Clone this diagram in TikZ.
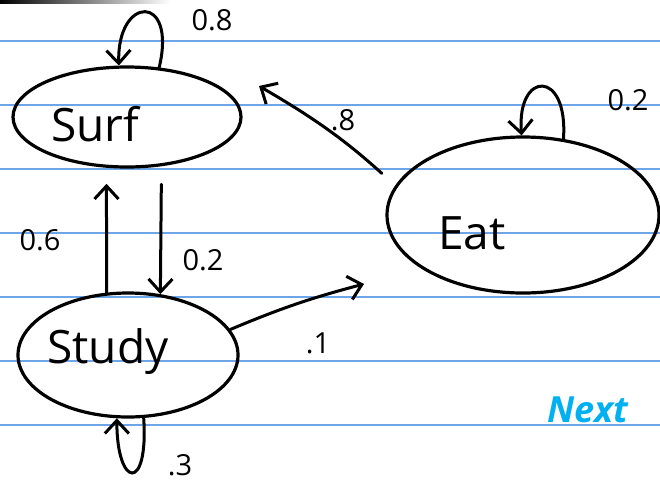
\documentclass[tikz,border=0pt]{standalone}
\usepackage{fontspec}
\setmainfont{Open Sans}
\usetikzlibrary{shapes.geometric,arrows.meta}
\definecolor{ruled}{RGB}{110,165,230}
\definecolor{nextblue}{RGB}{0,176,240}
\tikzset{
  statebox/.style={ellipse,draw=black,line width=3.2pt,inner sep=0pt},
  handtext/.style={font=\fontsize{46}{50}\selectfont},
  problabel/.style={font=\fontsize{29}{32}\selectfont},
  arr/.style={line width=3pt,line cap=round,-{Straight Barb[length=13pt,width=24pt,line width=3pt]}},
}
\begin{document}
\begin{tikzpicture}[x=1pt,y=-1pt]
\useasboundingbox (0,0) rectangle (660,483);
\fill[white] (0,0) rectangle (660,483);
\shade[left color=black,right color=white] (0,0) rectangle (170,3);
\foreach \yy in {41,105,169,233,297,361,425}
  \draw[ruled,line width=1.4pt] (0,\yy) -- (660,\yy);

\node[statebox,minimum width=228pt,minimum height=100pt] (surf) at (127,117) {};
\node[statebox,minimum width=220pt,minimum height=124pt] (study) at (128,355) {};
\node[statebox,minimum width=272pt,minimum height=156pt] (eat) at (523,215) {};

\node[handtext] (surftxt) at (95,124) {Surf};
\node[handtext] (studytxt) at (108,352) {Study};
\node[handtext] (eattxt) at (472,233) {Eat};

% self loops
\draw[arr] (surf.57) .. controls +(18,-75) and +(-2,-70) .. (surf.99);
\draw[arr] (eat.62) .. controls +(5,-70) and +(-5,-65) .. (eat.91);
\draw[arr] (study.-76) .. controls +(5,75) and +(0,70) .. (study.-100);

% transitions
\draw[arr,shorten >=16pt] (study.109) -- (surf.248);
\draw[arr,shorten <=18pt] (surf.-55) -- (study.62);
\coordinate (s2e) at (364,284);
\draw[arr] (study.14) to[bend left=4] (s2e);
\coordinate (e2s) at (259,86);
\draw[arr,shorten <=18pt] (eat.167) to[bend right=6] (e2s);

% labels
\node[problabel] (l1) at (212,20) {0.8};
\node[problabel] (l2) at (628,100) {0.2};
\node[problabel] (l3) at (343,120) {.8};
\node[problabel] (l4) at (40,240) {0.6};
\node[problabel] (l5) at (203,260) {0.2};
\node[problabel] (l6) at (318,343) {.1};
\node[problabel] (l7) at (180,465) {.3};
\node[font=\fontsize{36}{40}\selectfont\itshape\bfseries,text=nextblue] (nexttxt) at (588,410) {Next};
\end{tikzpicture}
\end{document}
